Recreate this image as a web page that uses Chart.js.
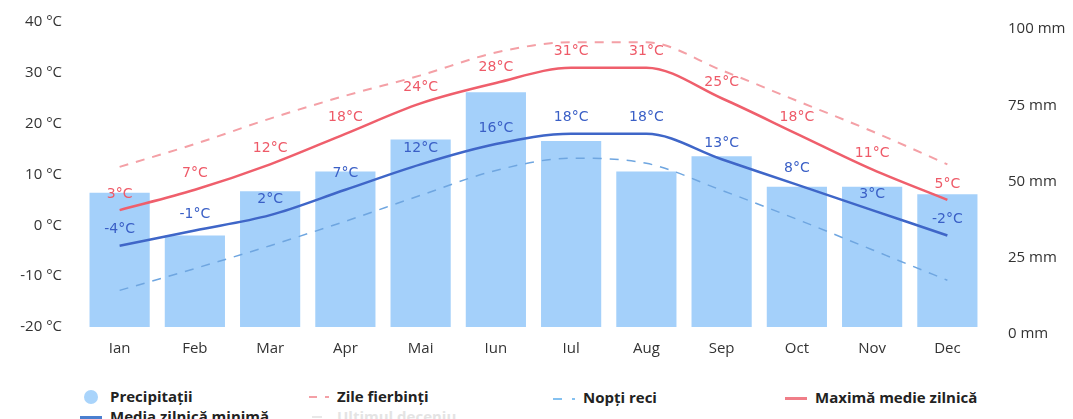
<!DOCTYPE html>
<html>
<head>
<meta charset="utf-8">
<script src="https://cdn.jsdelivr.net/npm/chart.js@4.4.1/dist/chart.umd.min.js"></script>
<style>
  html, body { margin: 0; padding: 0; background: #fff; overflow: hidden; }
  body { width: 1073px; height: 419px; position: relative; font-family: "Open Sans", sans-serif; }
  #wrap { position: absolute; left: 0; top: 0; width: 1073px; height: 370px; }
  .leg { position: absolute; font-weight: bold; font-size: 15px; color: #222; white-space: nowrap; line-height: 18px; }
  .ico { position: absolute; }
</style>
</head>
<body>
<div id="wrap"><canvas id="climateChart" width="1073" height="370"></canvas></div>

<!-- legend row 1 -->
<div class="ico" style="left:84px;top:390px;width:14px;height:14px;border-radius:50%;background:#a9d4fb;"></div>
<div class="leg" style="left:110px;top:387px;">Precipitații</div>
<div class="ico" style="left:309px;top:396px;width:8px;height:2px;background:#f4a0a6;"></div>
<div class="ico" style="left:325px;top:396px;width:4px;height:2px;background:#f4a0a6;"></div>
<div class="leg" style="left:337px;top:387px;">Zile fierbinți</div>
<div class="ico" style="left:553px;top:398px;width:9px;height:2px;background:#85c1f0;"></div>
<div class="ico" style="left:572px;top:398px;width:3px;height:2px;background:#85c1f0;"></div>
<div class="leg" style="left:583px;top:388px;">Nopți reci</div>
<div class="ico" style="left:785px;top:397px;width:22px;height:3px;background:#f07e88;"></div>
<div class="leg" style="left:815px;top:388px;">Maximă medie zilnică</div>
<!-- legend row 2 (cut off by the window) -->
<div class="ico" style="left:80px;top:416px;width:22px;height:3px;background:#4a7fd0;"></div>
<div class="leg" style="left:110px;top:407px;">Media zilnică minimă</div>
<div class="ico" style="left:312px;top:416px;width:10px;height:2px;background:#e8e8e8;"></div>
<div class="leg" style="left:337px;top:407px;color:#e4e4e4;">Ultimul deceniu</div>

<script>
// month names (Romanian)
const months = ['Ian', 'Feb', 'Mar', 'Apr', 'Mai', 'Iun', 'Iul', 'Aug', 'Sep', 'Oct', 'Nov', 'Dec'];

// precipitation in mm
const precipitation = [44, 30, 44.5, 51, 61.5, 77, 61, 51, 56, 46, 46, 43.5];

// temperatures in °C
const hotDays = [11.5, 16, 21, 25.5, 29.5, 34, 36, 36, 30.5, 24.5, 18.5, 12];
const coldNights = [-12.8, -8.5, -4, 0.8, 5.9, 10.8, 13.2, 12.2, 6.9, 1.2, -4.8, -10.8];
const maxDaily = [3, 7, 12, 18, 24, 28, 31, 31, 25, 18, 11, 5];
const minDaily = [-4, -1, 2, 7, 12, 16, 18, 18, 13, 8, 3, -2];

// axis tick values
const tempTicks = [-20, -10, 0, 10, 20, 30, 40];
const rainTicks = [0, 25, 50, 75, 100];

const RED = '#ef5f6c';
const BLUE = '#3f66c8';

// draws the "xx°C" labels above the max and min lines
const valueLabels = {
    id: 'valueLabels',
    afterDatasetsDraw(chart) {
        const ctx = chart.ctx;
        ctx.save();
        ctx.font = '14px "DejaVu Sans", sans-serif';
        ctx.textAlign = 'center';
        ctx.textBaseline = 'middle';
        chart.data.datasets.forEach((ds, i) => {
            if (!ds.showLabels) return;
            const meta = chart.getDatasetMeta(i);
            ctx.fillStyle = ds.labelColor;
            meta.data.forEach((pt, j) => {
                ctx.fillText(ds.data[j] + '°C', pt.x, pt.y - 16);
            });
        });
        ctx.restore();
    }
};

// vertical axes: fixed width, no extra top/bottom padding
function fitSide(width) {
    return s => {
        s.width = width;
        s.paddingTop = 0;
        s.paddingBottom = 0;
    };
}

const ctx = document.getElementById('climateChart').getContext('2d');

const climateChart = new Chart(ctx, {
    type: 'bar',
    data: {
        labels: months,
        datasets: [
            {
                type: 'line',
                label: 'Maximă medie zilnică',
                data: maxDaily,
                borderColor: RED,
                borderWidth: 2.5,
                pointRadius: 0,
                cubicInterpolationMode: 'monotone',
                yAxisID: 'y',
                order: 1,
                showLabels: true,
                labelColor: '#ee5a68'
            },
            {
                type: 'line',
                label: 'Media zilnică minimă',
                data: minDaily,
                borderColor: BLUE,
                borderWidth: 2.5,
                pointRadius: 0,
                cubicInterpolationMode: 'monotone',
                yAxisID: 'y',
                order: 1,
                showLabels: true,
                labelColor: '#3a5fc6'
            },
            {
                type: 'line',
                label: 'Zile fierbinți',
                data: hotDays,
                borderColor: '#f4a0a6',
                borderWidth: 2,
                borderDash: [9, 8],
                pointRadius: 0,
                cubicInterpolationMode: 'monotone',
                yAxisID: 'y',
                order: 2
            },
            {
                type: 'line',
                label: 'Nopți reci',
                data: coldNights,
                borderColor: '#6fa6e0',
                borderWidth: 1.5,
                borderDash: [9, 8],
                pointRadius: 0,
                cubicInterpolationMode: 'monotone',
                yAxisID: 'y',
                order: 2
            },
            {
                type: 'bar',
                label: 'Precipitații',
                data: precipitation,
                backgroundColor: '#a4d0fa',
                categoryPercentage: 0.8,
                barPercentage: 1,
                yAxisID: 'y2',
                order: 5
            }
        ]
    },
    options: {
        responsive: false,
        animation: false,
        layout: { padding: { top: 22, left: 0, right: 0, bottom: 0 } },
        plugins: {
            legend: { display: false },
            tooltip: { enabled: false }
        },
        scales: {
            x: {
                grid: { display: false, drawTicks: false },
                border: { display: false },
                ticks: {
                    color: '#333',
                    font: { family: '"Open Sans", sans-serif', size: 15 },
                    padding: 13
                },
                afterFit: s => { s.height = 43; }
            },
            y: {
                position: 'left',
                min: -20,
                max: 40,
                afterBuildTicks: s => { s.ticks = tempTicks.map(v => ({ value: v })); },
                grid: { display: false, drawTicks: false },
                border: { display: false },
                ticks: {
                    color: '#333',
                    font: { family: '"Open Sans", sans-serif', size: 15 },
                    padding: 20,
                    callback: v => v + ' °C'
                },
                afterFit: fitSide(82)
            },
            y2: {
                position: 'right',
                min: 0,
                max: 100,
                afterBuildTicks: s => { s.ticks = rainTicks.map(v => ({ value: v })); },
                grid: { display: false, drawTicks: false },
                border: { display: false },
                ticks: {
                    color: '#333',
                    font: { family: '"Open Sans", sans-serif', size: 15 },
                    padding: 23,
                    labelOffset: 7,
                    callback: v => v + ' mm'
                },
                afterFit: fitSide(88)
            }
        }
    },
    plugins: [valueLabels]
});
</script>
</body>
</html>
